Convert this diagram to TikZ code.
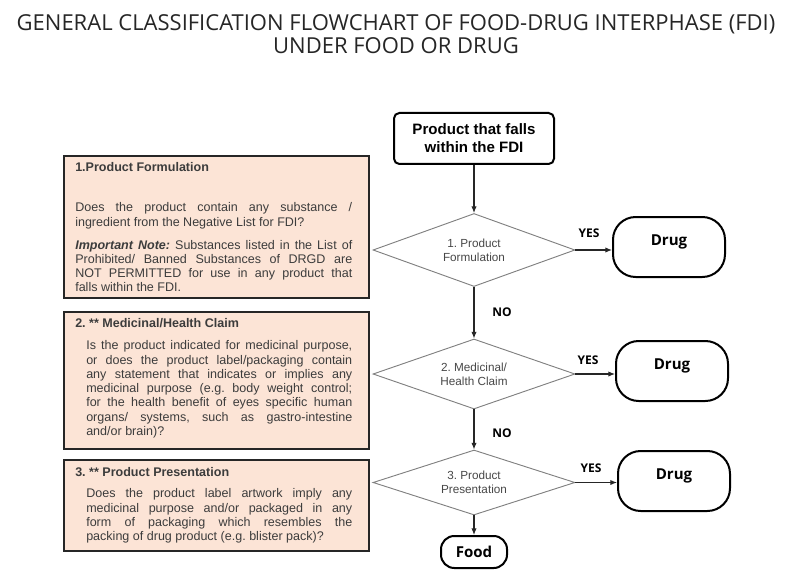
\documentclass[tikz,border=0pt]{standalone}
\usepackage{fontspec}
\setmainfont{Liberation Sans}
\newfontfamily\opensans{Open Sans}
\usetikzlibrary{shapes.geometric,arrows.meta,positioning}
\frenchspacing

\definecolor{panelfill}{HTML}{FCE4D6}
\definecolor{edgegray}{HTML}{808080}
\definecolor{inkdark}{HTML}{262626}

\tikzset{
  panel/.style={draw=inkdark, line width=1.5pt, fill=panelfill, anchor=north west, inner sep=0pt},
  paneltext/.style={anchor=north west, inner sep=0pt, text width=207.75pt, align=justify,
    font=\fontsize{9.4}{10.7}\selectfont, text=inkdark!90},
  decision/.style={diamond, aspect=2.8, draw=edgegray, line width=0.7pt, inner sep=0pt,
    minimum width=151.5pt, align=center, font=\fontsize{8.8}{10.5}\selectfont, text=inkdark!85},
  outcome/.style={draw=black, line width=1.5pt, rounded corners=17pt, minimum width=84pt,
    minimum height=45pt, text depth=10.5pt, font=\opensans\bfseries\fontsize{11.3}{13}\selectfont},
  answer/.style={inner sep=0pt, font=\opensans\bfseries\fontsize{9}{10}\selectfont},
  flow/.style={-{Latex[length=5pt,width=4pt]}, draw=inkdark, line width=0.8pt},
}

\begin{document}
\begin{tikzpicture}[x=0.75pt, y=-0.75pt]
        \useasboundingbox (0,0) rectangle (799,581);

        \node[align=center, text=inkdark, font=\opensans\fontsize{16.5}{17.25}\selectfont] (title) at (396,34)
          {GENERAL CLASSIFICATION FLOWCHART OF FOOD-DRUG INTERPHASE (FDI)\\UNDER FOOD OR DRUG};

        \node[draw=black, line width=1.5pt, rounded corners=4pt, minimum width=120pt, minimum height=38.25pt,
          align=center, font=\bfseries\fontsize{11.3}{13.5}\selectfont] (start) at (474,138.5)
          {Product that falls\\within the FDI};

        \node[decision, minimum height=54.75pt] (d1) at (474,250) {1. Product\\Formulation};
        \node[decision, minimum height=52.5pt] (d2) at (474,374) {2. Medicinal/\\Health Claim};
        \node[decision, minimum height=48.75pt] (d3) at (474,482.5) {3. Product\\Presentation};

        \node[outcome] (drug1) at (669,247) {Drug};
        \node[outcome] (drug2) at (672,371) {Drug};
        \node[outcome] (drug3) at (674,481) {Drug};
        \node[outcome, minimum width=49.5pt, minimum height=24pt, rounded corners=10pt, text depth=0pt] (food) at (474,552) {Food};

        \node[answer] (yes1) at (589,233) {YES};
        \node[answer] (yes2) at (588,360) {YES};
        \node[answer] (yes3) at (591,468) {YES};
        \node[answer] (no1) at (502,312) {NO};
        \node[answer] (no2) at (502,433) {NO};

        \draw[flow] (start) to (d1);
        \draw[flow] (d1) to (d2);
        \draw[flow] (d2) to (d3);
        \draw[flow] (d3) to (food);
        \draw[flow] (d1.east) to (d1.east -| drug1.west);
        \draw[flow] (d2.east) to (d2.east -| drug2.west);
        \draw[flow] (d3.east) to (d3.east -| drug3.west);

        \node[panel, minimum width=228.75pt, minimum height=106.5pt] (box1) at (63,155) {};
        \node[paneltext] (box1txt) at (75,162.5) {\textbf{1.Product Formulation}\par\vspace{19.3pt}
          Does the product contain any substance /\linebreak
          ingredient from the Negative List for FDI?\par\vspace{6.5pt}
          \textbf{\textit{Important Note:}} Substances listed in the List of\linebreak
          Prohibited/ Banned Substances of DRGD are\linebreak
          NOT PERMITTED for use in any product that\linebreak
          falls within the FDI.};

        \node[panel, minimum width=228.75pt, minimum height=102.75pt] (box2) at (63,311) {};
        \node[paneltext] (box2txt) at (75,318.5) {\textbf{2. ** Medicinal/Health Claim}\par\vspace{5.8pt}
          {\leftskip=8.25pt Is the product indicated for medicinal purpose,\linebreak
          or does the product label/packaging contain\linebreak
          any statement that indicates or implies any\linebreak
          medicinal purpose (e.g. body weight control;\linebreak
          for the health benefit of eyes specific human\linebreak
          organs/ systems, such as gastro-intestine\linebreak
          and/or brain)?\par}};

        \node[panel, minimum width=228.75pt, minimum height=68.25pt] (box3) at (63,459) {};
        \node[paneltext] (box3txt) at (75,467.5) {\textbf{3. ** Product Presentation}\par\vspace{5pt}
          {\leftskip=8.25pt Does the product label artwork imply any\linebreak
          medicinal purpose and/or packaged in any\linebreak
          form of packaging which resembles the\linebreak
          packing of drug product (e.g. blister pack)?\par}};
\end{tikzpicture}
\end{document}
